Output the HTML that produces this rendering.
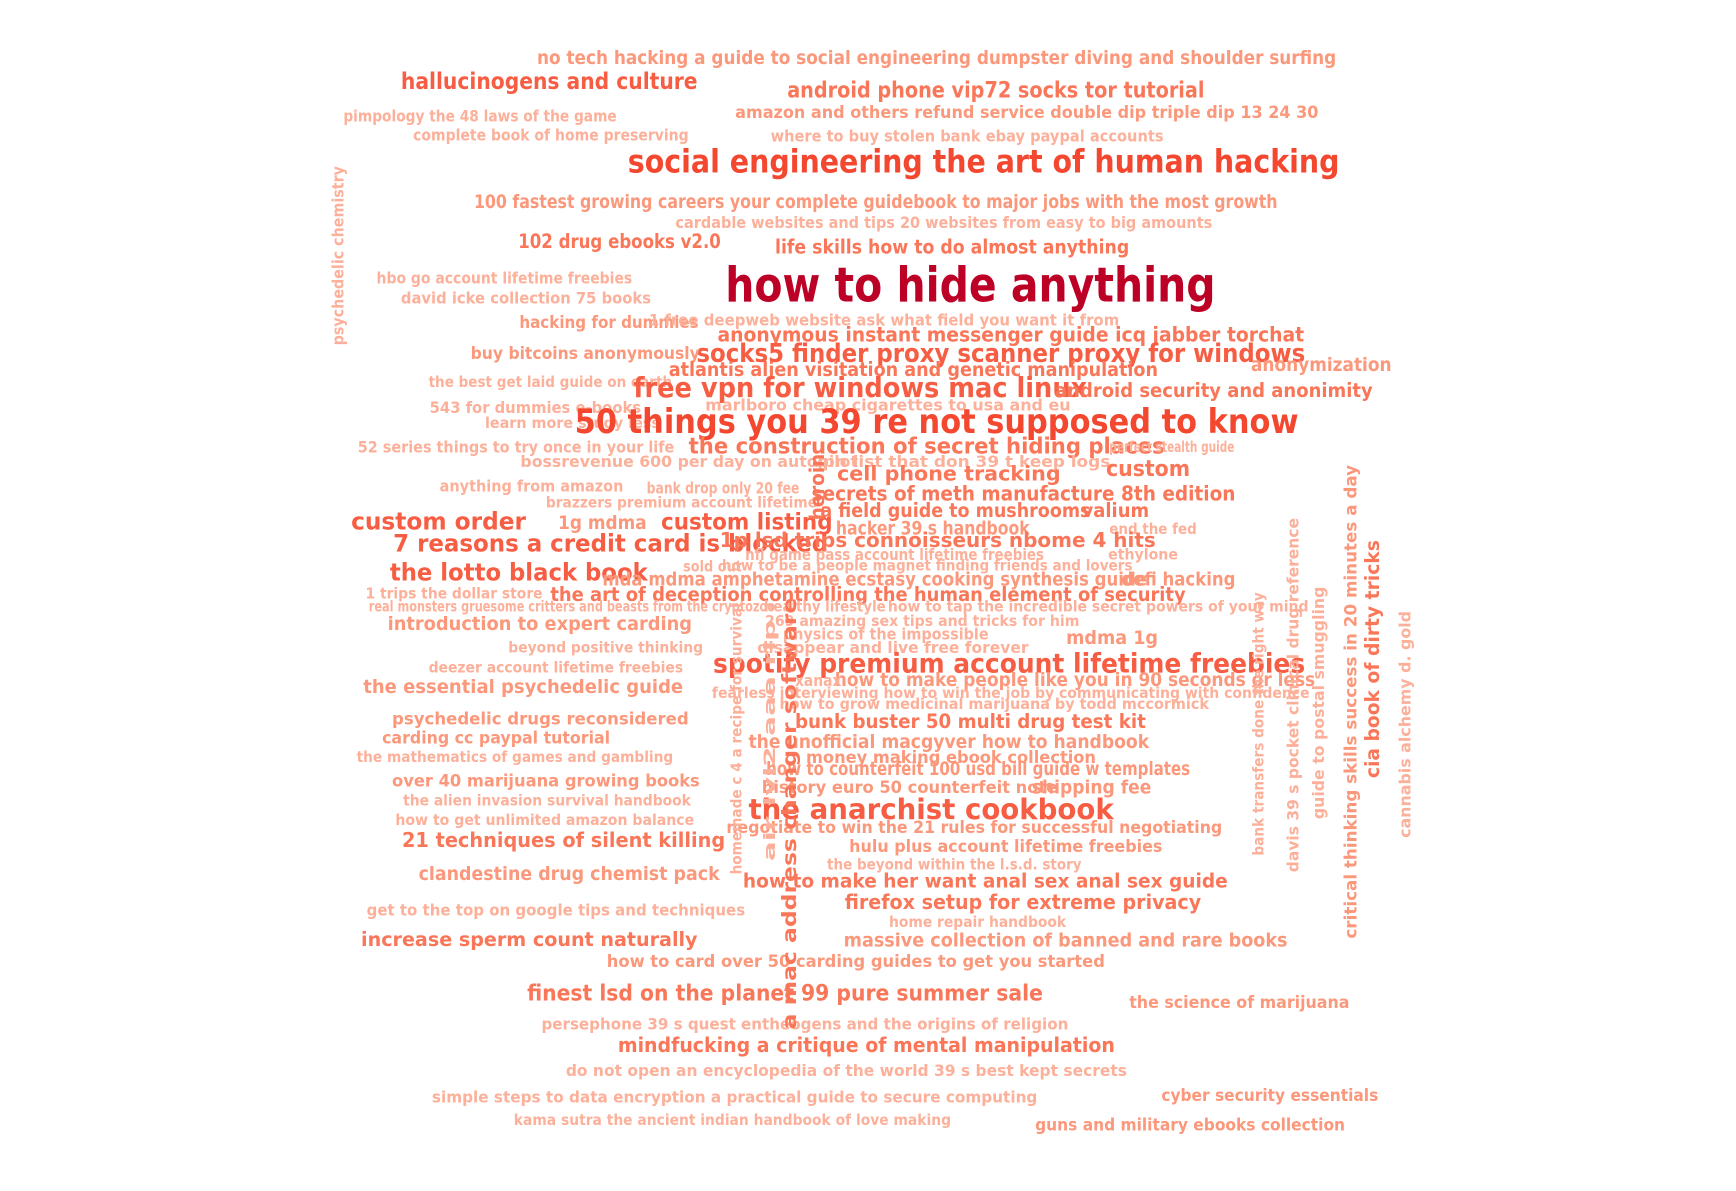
<!DOCTYPE html>
<html><head><meta charset="utf-8"><style>
html,body{margin:0;padding:0;background:#fff;}
svg{display:block;}
text{font-family:"DejaVu Sans","Liberation Sans",sans-serif;font-weight:bold;}
</style></head>
<body>
<svg id="cloud" width="1736" height="1191" viewBox="0 0 1568 1076" xmlns="http://www.w3.org/2000/svg">
<rect width="1568" height="1076" fill="#fff"/>
<g id="words"></g>
</svg>
<script>
const words = ["no tech hacking a guide to social engineering dumpster diving and shoulder surfing","hallucinogens and culture","android phone vip72 socks tor tutorial","pimpology the 48 laws of the game","amazon and others refund service double dip triple dip 13 24 30","complete book of home preserving","where to buy stolen bank ebay paypal accounts","social engineering the art of human hacking","psychedelic chemistry","100 fastest growing careers your complete guidebook to major jobs with the most growth","cardable websites and tips 20 websites from easy to big amounts","102 drug ebooks v2.0","life skills how to do almost anything","how to hide anything","hbo go account lifetime freebies","david icke collection 75 books","hacking for dummies","1 free deepweb website ask what field you want it from","anonymous instant messenger guide icq jabber torchat","socks5 finder proxy scanner proxy for windows","buy bitcoins anonymously","anonymization","atlantis alien visitation and genetic manipulation","the best get laid guide on earth","free vpn for windows mac linux","android security and anonimity","543 for dummies e-books","marlboro cheap cigarettes to usa and eu","learn more study less","50 things you 39 re not supposed to know","52 series things to try once in your life","the construction of secret hiding places","bossrevenue 600 per day on autopilot","vpn list that don 39 t keep logs","perfect stealth guide","custom","cell phone tracking","anything from amazon","bank drop only 20 fee","secrets of meth manufacture 8th edition","brazzers premium account lifetime","a field guide to mushrooms","valium","custom order","1g mdma","custom listing","hacker 39 s handbook","end the fed","7 reasons a credit card is blocked","1p lsd trips connoisseurs nbome 4 hits","nfl game pass account lifetime freebies","ethylone","sold out","how to be a people magnet finding friends and lovers","the lotto black book","mda mdma amphetamine ecstasy cooking synthesis guide","defi hacking","the art of deception controlling the human element of security","1 trips the dollar store","real monsters gruesome critters and beasts from the cryptozoo","healthy lifestyle","how to tap the incredible secret powers of your mind","introduction to expert carding","269 amazing sex tips and tricks for him","physics of the impossible","mdma 1g","beyond positive thinking","disappear and live free forever","spotify premium account lifetime freebies","deezer account lifetime freebies","the essential psychedelic guide","how to make people like you in 90 seconds or less","xanax","fearless interviewing how to win the job by communicating with confidence","how to grow medicinal marijuana by todd mccormick","psychedelic drugs reconsidered","bunk buster 50 multi drug test kit","carding cc paypal tutorial","the unofficial macgyver how to handbook","the mathematics of games and gambling","money making ebook collection","how to counterfeit 100 usd bill guide w templates","over 40 marijuana growing books","history euro 50 counterfeit note","shipping fee","the alien invasion survival handbook","the anarchist cookbook","how to get unlimited amazon balance","negotiate to win the 21 rules for successful negotiating","21 techniques of silent killing","hulu plus account lifetime freebies","the beyond within the l.s.d. story","clandestine drug chemist pack","how to make her want anal sex anal sex guide","firefox setup for extreme privacy","get to the top on google tips and techniques","home repair handbook","increase sperm count naturally","massive collection of banned and rare books","how to card over 50 carding guides to get you started","finest lsd on the planet 99 pure summer sale","the science of marijuana","persephone 39 s quest entheogens and the origins of religion","mindfucking a critique of mental manipulation","do not open an encyclopedia of the world 39 s best kept secrets","simple steps to data encryption a practical guide to secure computing","cyber security essentials","kama sutra the ancient indian handbook of love making","guns and military ebooks collection","homemade c 4 a recipe for survival","air lvl2 aaa rip","a mac address changer software","heroin","bank transfers done the right way","davis 39 s pocket clinical drug reference","guide to postal smuggling","critical thinking skills success in 20 minutes a day","cia book of dirty tricks","cannabis alchemy d. gold"];
const values = [16,20,19,14,15,14,14,28,14,16,14,17,17,42,14,14,15,14,18,22,15,16,17,13,24,17,14,14,13,29,14,19,14,14,13,19,18,14,14,18,13,17,17,21,16,20,16,13,21,18,14,13,13,13,21,16,16,17,13,13,13,13,16,13,14,16,13,14,23,13,16,16,14,13,13,15,17,15,16,13,15,16,15,15,16,13,25,13,15,18,15,13,16,17,18,14,13,17,16,15,19,15,14,18,14,14,15,13,15,13,14,17,18,13,14,14,15,17,14];
// layout: [x1, x2, yCenter, rotated] (vertical: [xCenter, yBottom, yTop, 1])
const layout = [[485,1207,53,0],[362,630,74,0],[711,1088,82,0],[310,557,105,0],[664,1191,102,0],[373,622,122,0],[696,1051,123,0],[567,1210,146,0],[305,312,150,1],[428,1154,183,0],[610,1095,201,0],[468,651,218,0],[700,1020,223,0],[655,1098,258,0],[340,571,251,0],[362,588,269,0],[469,631,292,0],[586,1011,289,0],[648,1178,302,0],[629,1179,319,0],[425,632,320,0],[1130,1257,330,0],[604,1046,334,0],[387,607,345,0],[572,982,350,0],[953,1240,353,0],[388,579,368,0],[637,967,366,0],[438,596,382,0],[519,1173,381,0],[323,609,404,0],[622,1052,404,0],[470,775,417,0],[733,1003,417,0],[1002,1115,404,0],[999,1075,424,0],[756,958,428,0],[397,563,439,0],[584,722,441,0],[733,1116,446,0],[493,738,454,0],[741,985,461,0],[977,1038,461,0],[317,475,471,0],[504,584,473,0],[597,752,472,0],[755,930,478,0],[1002,1081,478,0],[355,748,491,0],[650,1044,488,0],[673,943,501,0],[1001,1064,501,0],[617,670,512,0],[652,1023,511,0],[352,585,517,0],[544,1036,524,0],[1013,1116,524,0],[497,1071,537,0],[330,490,536,0],[333,700,548,0],[690,800,548,0],[802,1182,548,0],[350,625,564,0],[691,975,561,0],[707,893,573,0],[963,1046,577,0],[459,635,585,0],[684,929,585,0],[644,1179,600,0],[387,617,603,0],[328,617,621,0],[754,1188,615,0],[718,760,615,0],[643,1183,626,0],[704,1092,636,0],[354,622,650,0],[718,1035,652,0],[345,551,667,0],[676,1038,671,0],[322,608,684,0],[728,990,685,0],[692,1075,695,0],[354,632,706,0],[688,955,712,0],[932,1040,712,0],[364,624,723,0],[676,1006,731,0],[357,627,741,0],[656,1104,748,0],[363,655,759,0],[767,1050,765,0],[747,977,781,0],[378,650,790,0],[671,1109,796,0],[763,1085,815,0],[331,673,822,0],[803,963,833,0],[326,630,849,0],[762,1163,850,0],[548,998,869,0],[476,942,898,0],[1020,1219,906,0],[489,965,925,0],[558,1007,944,0],[511,1018,967,0],[390,937,991,0],[1049,1245,990,0],[464,859,1012,0],[935,1215,1017,0],[665,790,545,1],[695,778,560,1],[713,930,540,1],[738,470,410,1],[1137,773,535,1],[1168,788,468,1],[1191,740,530,1],[1221,848,420,1],[1240,703,488,1],[1269,757,552,1]];

function fontSize(v){ return v*1.04; }
function colorFor(v){
  if(v>=38) return "#bd0026";
  if(v>=26) return "#f4472f";
  if(v>=20) return "#f75d42";
  if(v>=17) return "#f97658";
  if(v>=15) return "#fb987b";
  return "#fcb09a";
}
const g = document.getElementById('words');
const NS = "http://www.w3.org/2000/svg";
for(let i=0;i<words.length;i++){
  const L = layout[i], v = values[i];
  const t = document.createElementNS(NS,'text');
  
  
  t.setAttribute('font-size', fontSize(v).toFixed(1));
  t.setAttribute('fill', colorFor(v));
  t.setAttribute('dominant-baseline','central');
  t.setAttribute('lengthAdjust','spacingAndGlyphs');
  if(L[3]===1){
    t.setAttribute('x', 0);
    t.setAttribute('y', 0);
    t.setAttribute('textLength', L[1]-L[2]);
    t.setAttribute('transform','translate('+L[0]+','+L[1]+') rotate(-90)');
  } else {
    t.setAttribute('x', L[0]);
    t.setAttribute('y', L[2]);
    t.setAttribute('textLength', L[1]-L[0]);
  }
  t.textContent = words[i];
  g.appendChild(t);
}
</script>
</body></html>
